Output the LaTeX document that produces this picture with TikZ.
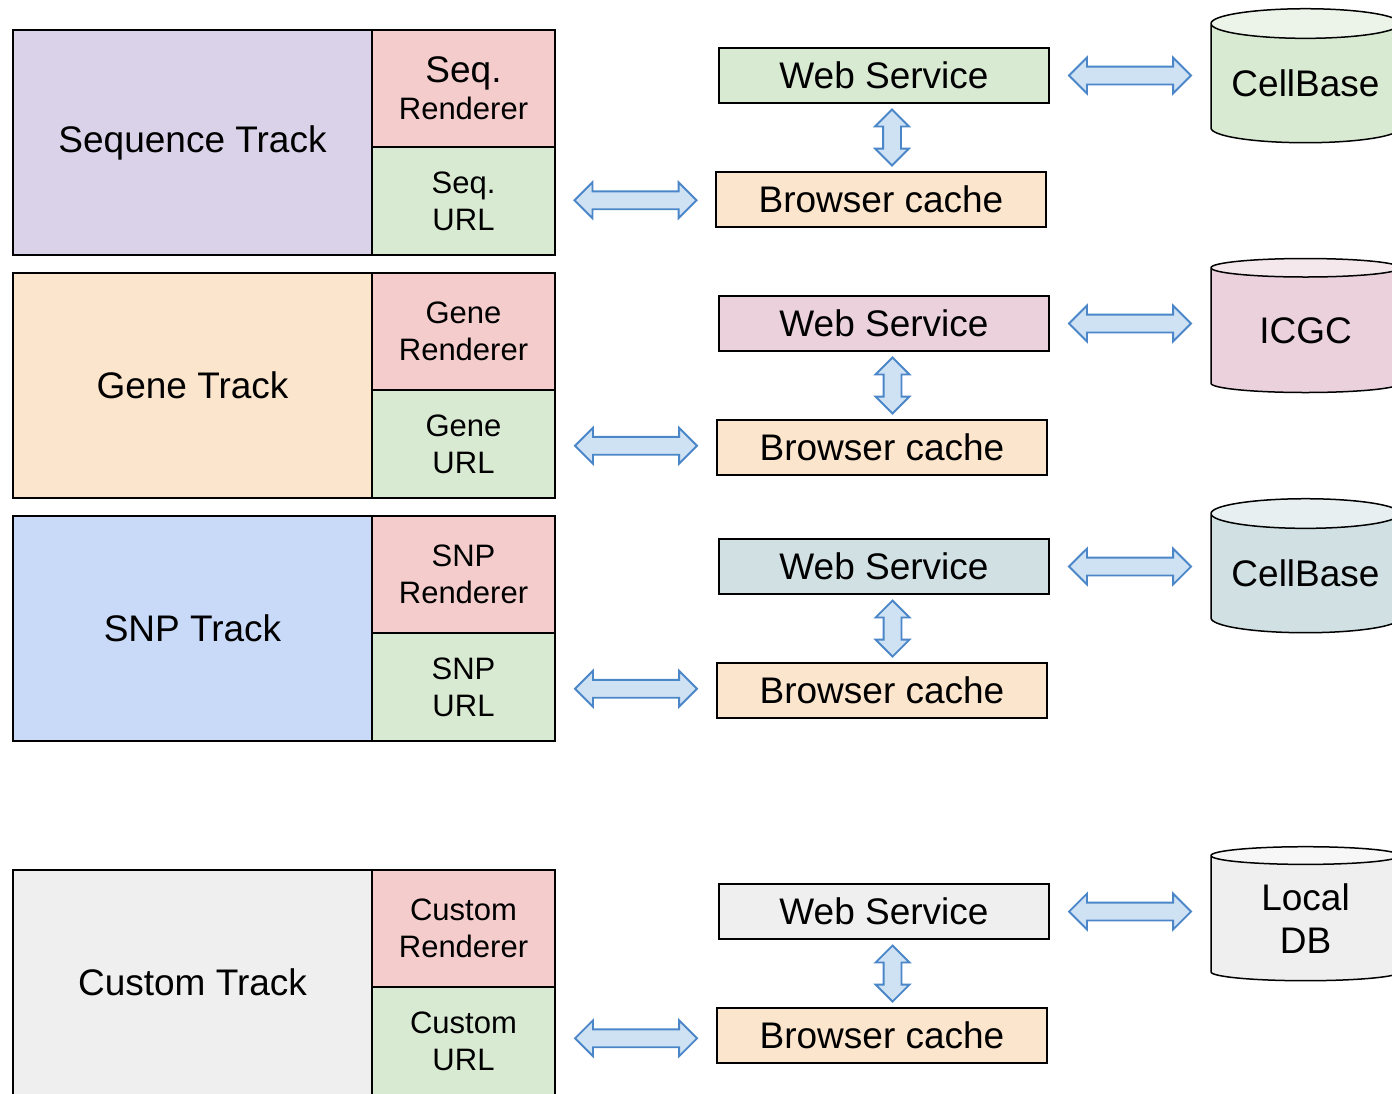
\documentclass[tikz,border=0pt]{standalone}
\usepackage{fontspec}
\setmainfont{Liberation Sans}
\usetikzlibrary{positioning, shapes.geometric, shapes.arrows}

\definecolor{seqcol}{HTML}{D9D2E9}
\definecolor{genecol}{HTML}{FCE5CD}
\definecolor{snpcol}{HTML}{C9DAF8}
\definecolor{customcol}{HTML}{EFEFEF}
\definecolor{rendcol}{HTML}{F4CCCC}
\definecolor{urlcol}{HTML}{D9EAD3}
\definecolor{cachecol}{HTML}{FCE5CD}
\definecolor{cellcol}{HTML}{D9EAD3}
\definecolor{icgccol}{HTML}{EAD1DC}
\definecolor{snpwscol}{HTML}{D0E0E3}
\definecolor{linkfill}{HTML}{CFE2F3}
\definecolor{linkdraw}{HTML}{4A86C8}

\begin{document}
\begin{tikzpicture}[x=0.5pt,y=-0.5pt,
    box/.style={draw, line width=1pt, inner sep=0pt, outer sep=0pt, align=center, font=\fontsize{18.5}{21.5}\selectfont},
    track/.style={box, anchor=north west, minimum width=179.5pt, minimum height=112.5pt},
    part/.style={box, minimum width=91.5pt, font=\fontsize{15.5}{18.5}\selectfont},
    renderer/.style={part, fill=rendcol, minimum height=58.5pt},
    url/.style={part, fill=urlcol, minimum height=54pt},
    service/.style={box, minimum width=165pt, minimum height=27.5pt},
    cache/.style={service, fill=cachecol},
    db/.style={cylinder, shape border rotate=90, draw, line width=0.75pt, aspect=0.2,
               minimum width=94.5pt, minimum height=67pt, inner sep=0pt, outer sep=0pt, align=center,
               font=\fontsize{18.5}{21.5}\selectfont, cylinder uses custom fill,
               cylinder body fill=#1, cylinder end fill=#1!50!white},
    link/.style={double arrow, draw=linkdraw, fill=linkfill, line width=0.9pt, inner sep=4pt,
                 minimum height=61pt, minimum width=0pt, double arrow head extend=4.5pt},
    vlink/.style={link, shape border rotate=90, minimum height=28pt, inner sep=4pt,
                  double arrow head extend=4pt, xshift=4.75pt}]
    \useasboundingbox (0,0) rectangle (1392,1093);
    \clip (0,0) rectangle (1392,1093);

    % sequence track
    \node[track, fill=seqcol]                     (seqtrack) at (13,30)            {Sequence Track};
    \node[renderer, anchor=north west]            (seqrend)  at (seqtrack.north east) {{\fontsize{18.5}{16}\selectfont Seq.}\\Renderer};
    \node[url, below=0pt of seqrend]              (sequrl)                        {Seq.\\URL};
    \node[service, fill=cellcol]                  (seqws)    at (884,75.5)         {Web Service};
    \node[cache]                                  (seqcache) at (881,199.5)        {Browser cache};
    \node[db=cellcol]                             (seqdb)    at (1305.5,83.5)      {CellBase};

    % gene track
    \node[track, fill=genecol]                    (genetrack) at (13,273)          {Gene Track};
    \node[renderer, anchor=north west]            (generend)  at (genetrack.north east) {Gene\\Renderer};
    \node[url, below=0pt of generend]             (geneurl)                       {Gene\\URL};
    \node[service, fill=icgccol]                  (genews)    at (884,323.5)       {Web Service};
    \node[cache]                                  (genecache) at (882,447.5)       {Browser cache};
    \node[db=icgccol]                             (genedb)    at (1305.5,330.5)    {ICGC};

    % snp track
    \node[track, fill=snpcol]                     (snptrack) at (13,516)           {SNP Track};
    \node[renderer, anchor=north west]            (snprend)  at (snptrack.north east) {SNP\\Renderer};
    \node[url, below=0pt of snprend]              (snpurl)                        {SNP\\URL};
    \node[service, fill=snpwscol]                 (snpws)    at (884,566.5)        {Web Service};
    \node[cache]                                  (snpcache) at (882,690.5)        {Browser cache};
    \node[db=snpwscol]                            (snpdb)    at (1305.5,573.5)     {CellBase};

    % custom track
    \node[track, fill=customcol]                  (custrack) at (13,870)           {Custom Track};
    \node[renderer, anchor=north west]            (cusrend)  at (custrack.north east) {Custom\\Renderer};
    \node[url, below=0pt of cusrend]              (cusurl)                        {Custom\\URL};
    \node[service, fill=customcol]                (cusws)    at (884,911.5)        {Web Service};
    \node[cache]                                  (cuscache) at (882,1035.5)       {Browser cache};
    \node[db=customcol]                           (cusdb)    at (1305.5,918.5)     {Local\\DB};

    % links
    \path (sequrl.east)  -- node[link]  {} (seqcache.west);
    \path (seqws.east)   -- node[link]  {} (seqws.east -| seqdb.west);
    \path (seqws)        -- node[vlink] {} (seqcache);
    \path (geneurl.east) -- node[link]  {} (genecache.west);
    \path (genews.east)  -- node[link]  {} (genews.east -| genedb.west);
    \path (genews)       -- node[vlink] {} (genecache);
    \path (snpurl.east)  -- node[link]  {} (snpcache.west);
    \path (snpws.east)   -- node[link]  {} (snpws.east -| snpdb.west);
    \path (snpws)        -- node[vlink] {} (snpcache);
    \path (cusurl.east)  -- node[link]  {} (cuscache.west);
    \path (cusws.east)   -- node[link]  {} (cusws.east -| cusdb.west);
    \path (cusws)        -- node[vlink] {} (cuscache);
\end{tikzpicture}
\end{document}
